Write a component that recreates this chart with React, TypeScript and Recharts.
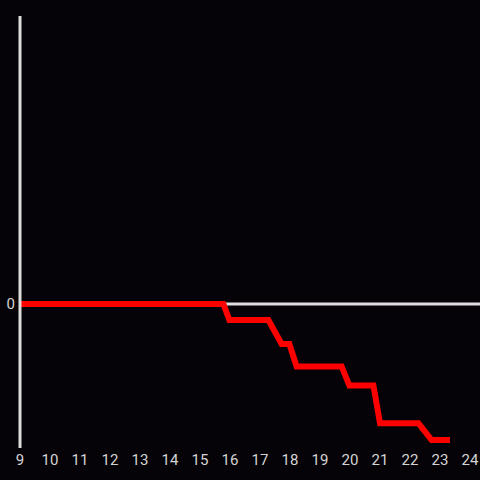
import React from 'react';
import { LineChart, Line, XAxis, YAxis, ReferenceLine } from 'recharts';

const hours = [9, 15.78, 15.98, 17.28, 17.72, 17.98, 18.22, 19.72, 19.98, 20.78, 21.0, 22.28, 22.72, 23.33];
const values = [0, 0, -1, -1, -2.5, -2.5, -3.9, -3.9, -5.1, -5.1, -7.45, -7.45, -8.5, -8.5];
const hourTicks = [9, 10, 11, 12, 13, 14, 15, 16, 17, 18, 19, 20, 21, 22, 23, 24];

const data = hours.map((h, i) => ({ hour: h, value: values[i] }));

const AXIS = '#dedede';
const LABEL = '#d4d4d4';

const App: React.FC = () => (
  <div style={{ position: 'fixed', left: 0, top: 0, width: 480, height: 480, background: '#050307' }}>
    <LineChart
      width={480}
      height={480}
      data={data}
      margin={{ top: 16, right: 0, bottom: 0, left: 0 }}
      style={{ fontFamily: 'Roboto, "Noto Sans", sans-serif' }}
    >
      <XAxis
        dataKey="hour"
        type="number"
        domain={[9, 24.333]}
        ticks={hourTicks}
        height={32}
        axisLine={false}
        tickLine={false}
        tickSize={4}
        tickMargin={2}
        tick={{ fill: LABEL, fontSize: 15 }}
        interval={0}
      />
      <YAxis
        type="number"
        domain={[-9, 18]}
        ticks={[0]}
        width={20}
        axisLine={{ stroke: AXIS, strokeWidth: 3 }}
        tickLine={false}
        tickSize={2}
        tickMargin={3}
        tick={{ fill: LABEL, fontSize: 15 }}
      />
      <ReferenceLine y={0} stroke={AXIS} strokeWidth={3} />
      <Line
        type="linear"
        dataKey="value"
        stroke="#ff0000"
        strokeWidth={6}
        dot={false}
        isAnimationActive={false}
      />
    </LineChart>
  </div>
);

export default App;
